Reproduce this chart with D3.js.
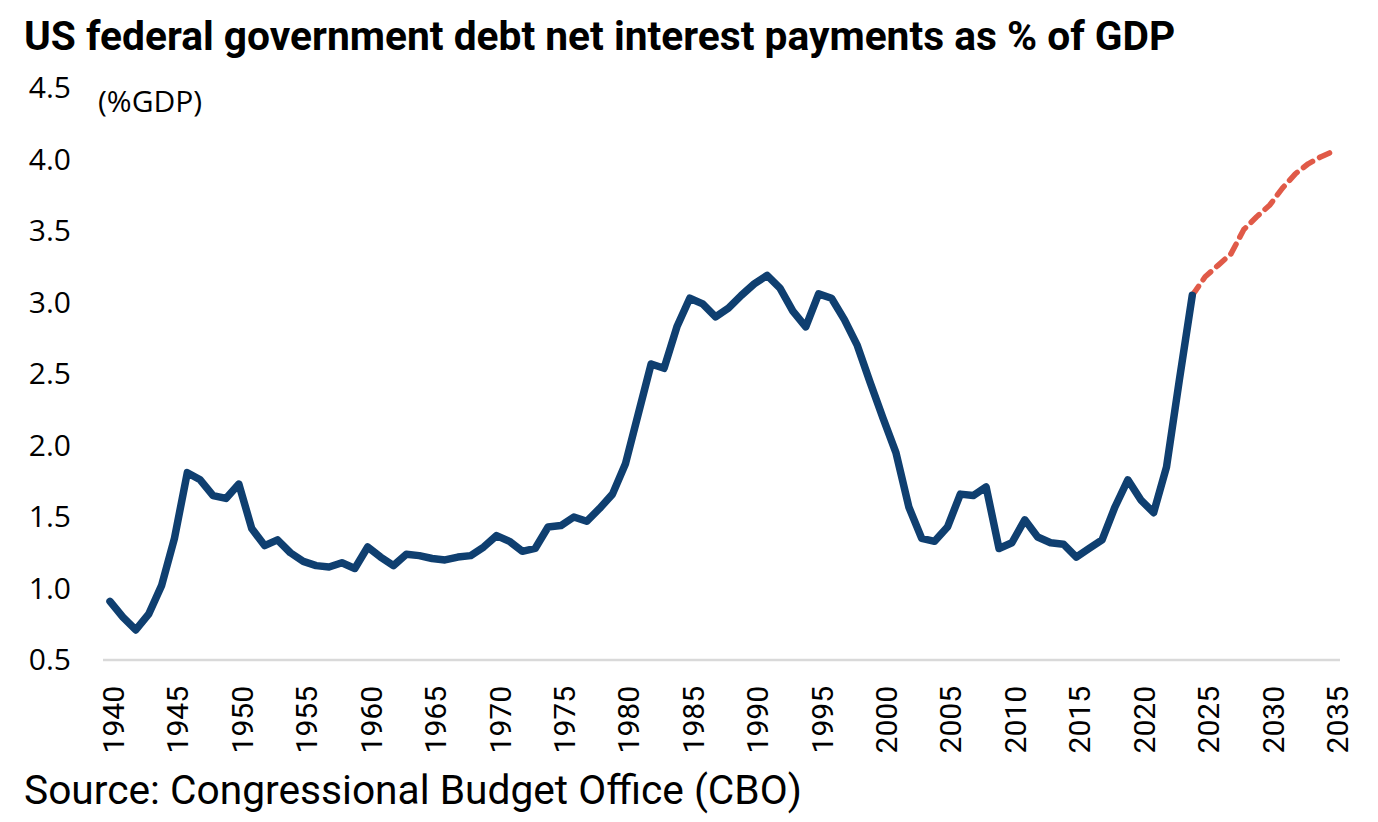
<!DOCTYPE html>
<html>
<head>
<meta charset="utf-8">
<script src="https://cdn.jsdelivr.net/npm/d3@7"></script>
<style>
  body { margin: 0; background: #fff; }
  svg { display: block; }
</style>
</head>
<body>
<div class="chart"></div>
<script>
var svgWidth = 1378;
var svgHeight = 822;

// historical net interest, % of GDP (1940-2024)
var histYears = d3.range(1940, 2025);
var histValues = [
  0.91, 0.80, 0.71, 0.82, 1.02, 1.35, 1.81, 1.76, 1.65, 1.63,
  1.73, 1.42, 1.30, 1.34, 1.25, 1.19, 1.16, 1.15, 1.18, 1.14,
  1.29, 1.22, 1.16, 1.24, 1.23, 1.21, 1.20, 1.22, 1.23, 1.29,
  1.37, 1.33, 1.26, 1.28, 1.43, 1.44, 1.50, 1.47, 1.56, 1.66,
  1.87, 2.22, 2.57, 2.54, 2.83, 3.03, 2.99, 2.90, 2.96, 3.05,
  3.13, 3.19, 3.10, 2.94, 2.83, 3.06, 3.03, 2.88, 2.70, 2.44,
  2.19, 1.95, 1.57, 1.35, 1.33, 1.43, 1.66, 1.65, 1.71, 1.28,
  1.32, 1.48, 1.36, 1.32, 1.31, 1.22, 1.28, 1.34, 1.57, 1.76,
  1.62, 1.53, 1.85, 2.46, 3.05
];

// CBO projection (2024-2035)
var projYears = d3.range(2024, 2036);
var projValues = [3.05, 3.18, 3.26, 3.34, 3.51, 3.60, 3.68, 3.80, 3.90, 3.97, 4.02, 4.06];

var yTicks = [0.5, 1.0, 1.5, 2.0, 2.5, 3.0, 3.5, 4.0, 4.5];
var xTicks = d3.range(1940, 2036, 5);

var titleText = "US federal government debt net interest payments as % of GDP";
var unitText = "(%GDP)";
var sourceText = "Source: Congressional Budget Office (CBO)";

var svg = d3.select(".chart").append("svg")
    .attr("width", svgWidth).attr("height", svgHeight);

var x = d3.scaleLinear().domain([1940, 2035]).range([110, 1334]);
var y = d3.scaleLinear().domain([0.5, 4.5]).range([660, 88]);

// title
svg.append("text")
    .attr("x", 24).attr("y", 50)
    .attr("font-family", "Roboto")
    .attr("font-weight", "bold")
    .attr("font-size", "40.7px")
    .attr("fill", "#000")
    .text(titleText);

// y axis (labels only)
var yAxis = svg.append("g")
    .attr("transform", "translate(71,0)")
    .call(d3.axisLeft(y).tickValues(yTicks).tickSize(0).tickPadding(0).tickFormat(d3.format(".1f")));
yAxis.select(".domain").remove();
yAxis.selectAll("text")
    .attr("font-family", "Open Sans")
    .attr("font-size", "30px")
    .attr("fill", "#000");

svg.append("text")
    .attr("x", 98).attr("y", 112)
    .attr("font-family", "Open Sans")
    .attr("font-size", "30px")
    .attr("fill", "#000")
    .text(unitText);

// x axis
var xAxis = svg.append("g")
    .attr("transform", "translate(0,660)")
    .call(d3.axisBottom(x).tickValues(xTicks).tickSize(0).tickFormat(d3.format("d")));
xAxis.select(".domain").remove();
xAxis.selectAll("text")
    .attr("font-family", "Roboto")
    .attr("font-size", "30px")
    .attr("fill", "#000")
    .attr("text-anchor", "end")
    .attr("transform", "rotate(-90)")
    .attr("x", -26)
    .attr("y", 3)
    .attr("dy", "0.35em");

svg.append("line")
    .attr("x1", 103).attr("x2", 1340)
    .attr("y1", y(0.5)).attr("y2", y(0.5))
    .attr("stroke", "#d9d9d9")
    .attr("stroke-width", 2.5);

var line = d3.line()
    .x(d => x(d[0]))
    .y(d => y(d[1]));

svg.append("path")
    .datum(d3.zip(projYears, projValues))
    .attr("d", line)
    .attr("fill", "none")
    .attr("stroke", "#e05a48")
    .attr("stroke-width", 5.5)
    .attr("stroke-dasharray", "11,8")
    .attr("stroke-linecap", "round")
    .attr("stroke-linejoin", "round");

svg.append("path")
    .datum(d3.zip(histYears, histValues))
    .attr("d", line)
    .attr("fill", "none")
    .attr("stroke", "#0f3f70")
    .attr("stroke-width", 7.5)
    .attr("stroke-linecap", "round")
    .attr("stroke-linejoin", "round");

// source
svg.append("text")
    .attr("x", 24).attr("y", 804)
    .attr("font-family", "Roboto")
    .attr("font-size", "40.7px")
    .attr("fill", "#000")
    .text(sourceText);
</script>
</body>
</html>
